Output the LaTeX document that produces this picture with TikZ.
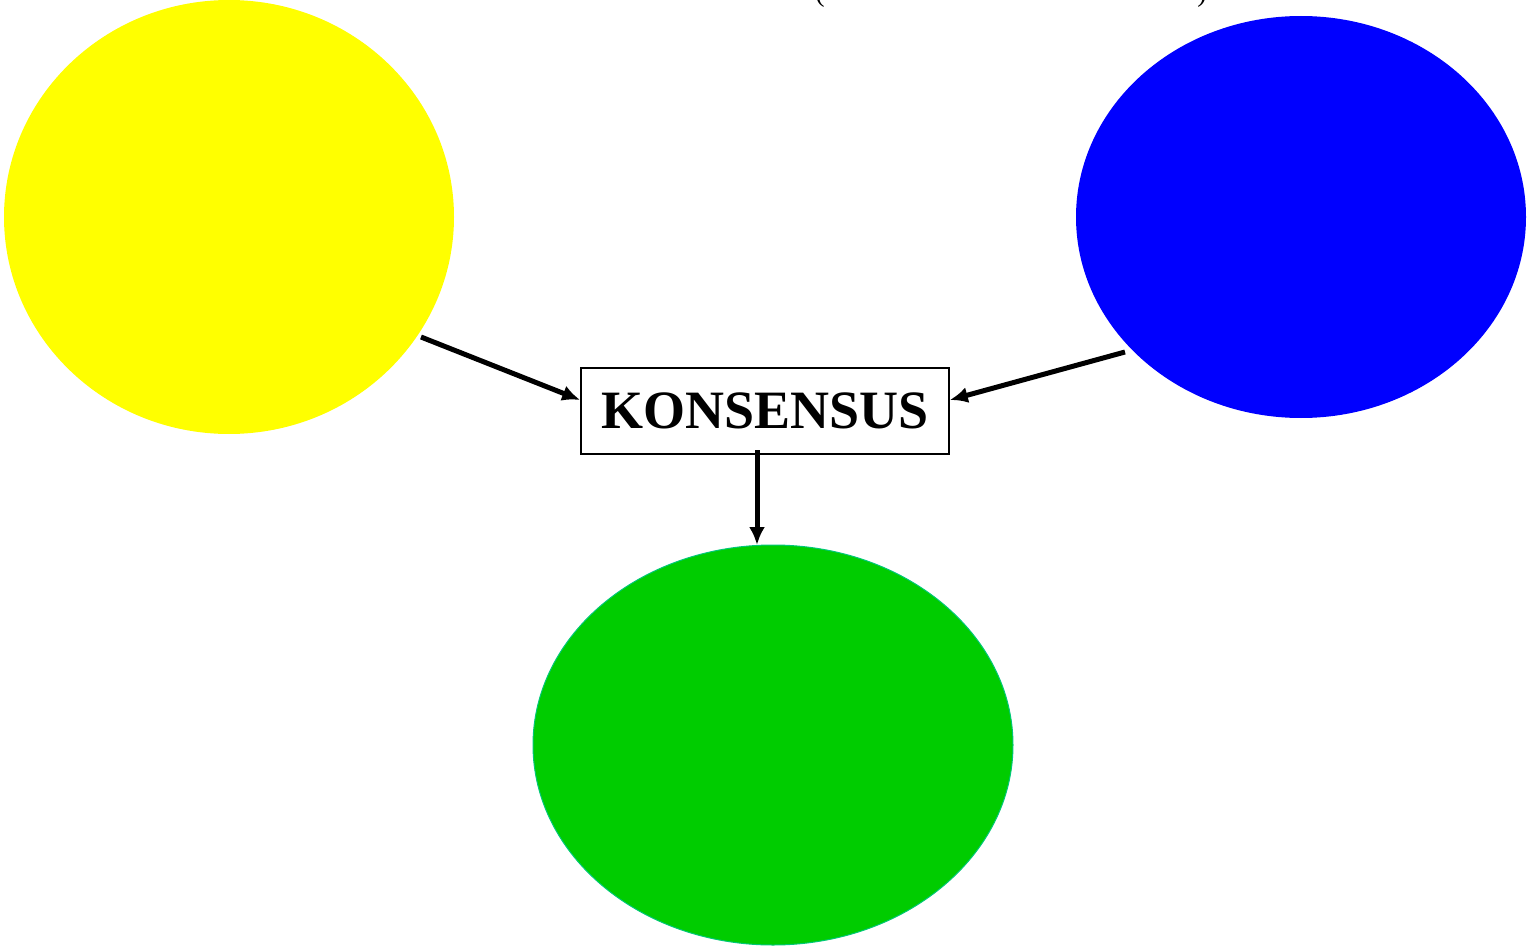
\documentclass[tikz,border=0pt]{standalone}
\usepackage{fontspec}
\setmainfont{Liberation Serif}
\usetikzlibrary{shapes.geometric,arrows.meta}
\definecolor{ylw}{RGB}{255,255,0}
\definecolor{blu}{RGB}{0,0,255}
\definecolor{grn}{RGB}{0,204,0}
\definecolor{grnedge}{RGB}{0,200,120}
\begin{document}
\begin{tikzpicture}[x=0.5pt,y=-0.5pt,
  blob/.style={ellipse,inner sep=0pt,draw=none},
  conn/.style={line width=2.5pt,-{Latex[length=9pt,width=8pt]}}]
\useasboundingbox (0,0) rectangle (1527,947);
\node[blob,fill=ylw,minimum width=225pt,minimum height=217pt] (yellow) at (229,217) {};
\node[blob,fill=blu,minimum width=225pt,minimum height=201pt] (blue) at (1301,217) {};
\node[blob,fill=grn,draw=grnedge,line width=0.5pt,minimum width=240pt,minimum height=200pt] (green) at (773,745) {};
\node[draw,line width=0.8pt,minimum width=184pt,minimum height=43pt,inner sep=0pt,font=\fontsize{27}{32}\selectfont\bfseries] (box) at (765,411) {KONSENSUS};
\node[anchor=base,inner sep=0pt,font=\fontsize{14}{16}\selectfont] (lp) at (820,2) {(};
\node[anchor=base,inner sep=0pt,font=\fontsize{14}{16}\selectfont] (rp) at (1202,2) {)};
\coordinate (ys) at (421,337);
\coordinate (bs) at (1125,352);
\coordinate (gs) at (757,450);
\draw[conn] (ys) -- (box.west |- 0,400);
\draw[conn] (bs) -- (box.east |- 0,400);
\draw[conn] (gs) -- (757,545);
\end{tikzpicture}
\end{document}
